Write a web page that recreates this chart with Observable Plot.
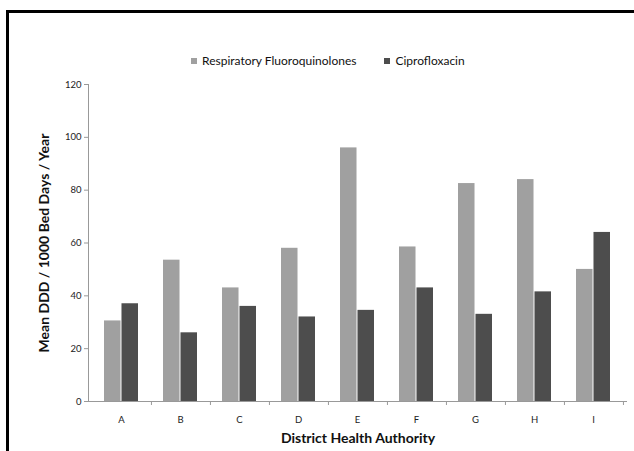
<!DOCTYPE html>
<html>
<head>
<meta charset="utf-8">
<script src="https://cdn.jsdelivr.net/npm/d3@7"></script>
<script src="https://cdn.jsdelivr.net/npm/@observablehq/plot@0.6"></script>
<style>
  html, body { margin: 0; padding: 0; background: #fff; }
  #wrap { position: relative; width: 634px; height: 451px; overflow: hidden; background: #fff; }
  #frame { position: absolute; left: 6px; top: 10px; width: 700px; height: 600px; border: 3px solid #000; box-sizing: border-box; }
  #legend { position: absolute; left: 191px; top: 44px; }
  #chart { position: absolute; left: 0; top: 0; }
</style>
</head>
<body>
<div id="wrap">
  <div id="frame"></div>
  <div id="chart"></div>
  <div id="legend"></div>
</div>
<script>
const districts = ["A", "B", "C", "D", "E", "F", "G", "H", "I"];
const seriesNames = ["Respiratory Fluoroquinolones", "Ciprofloxacin"];
const respiratory = [30.5, 53.5, 43, 58, 96, 58.5, 82.5, 84, 50];
const ciprofloxacin = [37, 26, 36, 32, 34.5, 43, 33, 41.5, 64];
const yTicks = [0, 20, 40, 60, 80, 100, 120];
const colors = ["#a0a0a0", "#4d4d4d"];
const yLabel = "Mean DDD / 1000 Bed Days / Year";
const xLabel = "District Health Authority";

const rows = [];
districts.forEach((d, i) => {
  rows.push({district: d, series: seriesNames[0], value: respiratory[i]});
  rows.push({district: d, series: seriesNames[1], value: ciprofloxacin[i]});
});

const W = 634, H = 451;
const mL = 88, mR = 7, mT = 84, mB = 50;
const pIn = 0.416, pOut = 0.208;
const step = (W - mL - mR) / (districts.length - pIn + 2 * pOut);
const bw = step * (1 - pIn);

const chart = Plot.plot({
  width: W,
  height: H,
  marginLeft: mL,
  marginRight: mR,
  marginTop: mT,
  marginBottom: mB,
  style: {fontFamily: "Lato, 'Open Sans', sans-serif", fontSize: "9px", color: "#222", background: "transparent"},
  x: {domain: districts, paddingInner: pIn, paddingOuter: pOut, axis: null},
  y: {domain: [0, 120], axis: null},
  color: {domain: seriesNames, range: colors},
  marks: [
    Plot.barY(rows.filter(r => r.series === seriesNames[0]), {x: "district", y: "value", fill: "series", insetRight: bw / 2}),
    Plot.barY(rows.filter(r => r.series === seriesNames[1]), {x: "district", y: "value", fill: "series", insetLeft: bw / 2}),
    Plot.frame({anchor: "left", stroke: "#999"}),
    Plot.ruleY([0], {stroke: "#999"}),
    Plot.axisY({ticks: yTicks, tickSize: 4, tickPadding: 3, stroke: "#999", fill: "#222", label: null, fontSize: 9.5}),
    Plot.axisX({tickSize: 0, tickPadding: 15, label: null, fill: "#222", fontSize: 9.5}),
    Plot.axisX({text: null, tickSize: 4, stroke: "#999", dx: step / 2, label: null}),
    Plot.text([yLabel], {frameAnchor: "left", dx: -44, rotate: -90, textAnchor: "middle", text: d => d, fontWeight: "bold", fontSize: 14, fill: "#111"}),
    Plot.text([xLabel], {frameAnchor: "bottom", dy: 41, textAnchor: "middle", text: d => d, fontWeight: "bold", fontSize: 14, fill: "#111"})
  ]
});
document.getElementById("chart").appendChild(chart);

const legend = Plot.legend({
  color: {domain: seriesNames, range: colors},
  swatchSize: 6,
  style: {fontFamily: "Lato, 'Open Sans', sans-serif", fontSize: "12px", color: "#111"}
});
legend.style.margin = "0";
legend.querySelectorAll("span").forEach(s => { s.style.marginRight = "28px"; });
legend.querySelectorAll("svg").forEach(s => { s.style.marginRight = "5px"; });
document.getElementById("legend").appendChild(legend);
</script>
</body>
</html>
